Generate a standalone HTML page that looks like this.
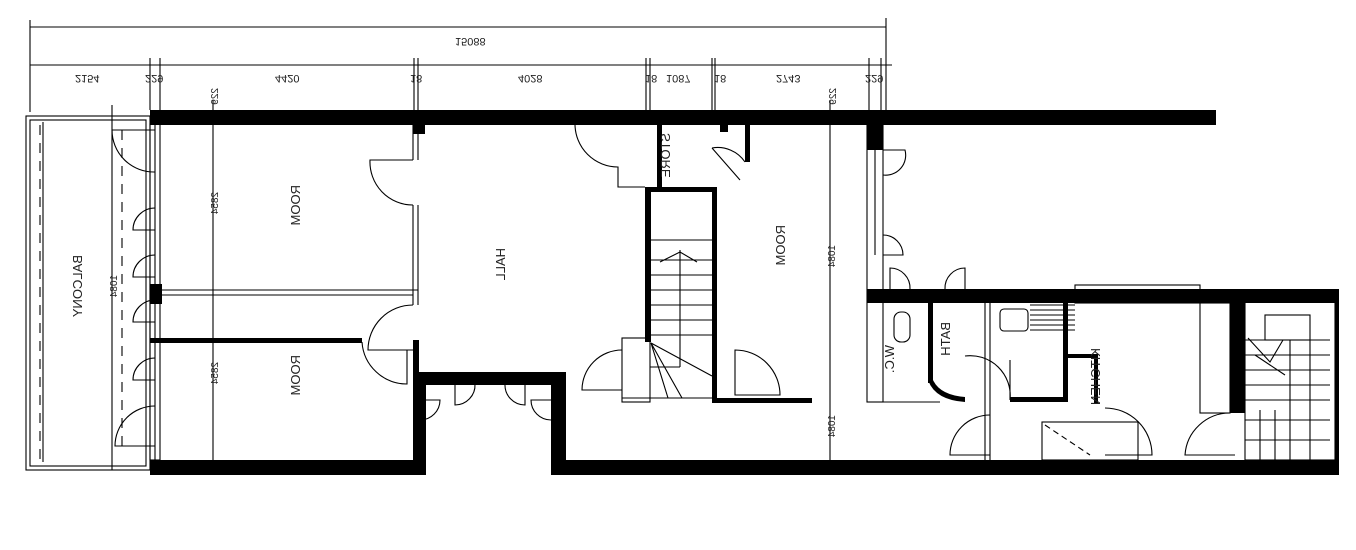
<!DOCTYPE html>
<html><head><meta charset="utf-8"><style>
html,body{margin:0;padding:0;background:#fff;}
svg{display:block;}
text{font-family:"Liberation Sans",sans-serif;fill:#222;}
</style></head><body>
<svg width="1356" height="550" viewBox="0 0 1356 550" xmlns="http://www.w3.org/2000/svg">
<g stroke="#000" stroke-width="1.1" fill="none">
<line x1="30" y1="27" x2="886" y2="27"/>
<line x1="30" y1="20" x2="30" y2="112"/>
<line x1="886" y1="18" x2="886" y2="110"/>
<line x1="30" y1="65" x2="892" y2="65"/>
<line x1="150" y1="58" x2="150" y2="110"/><line x1="160" y1="58" x2="160" y2="110"/>
<line x1="414" y1="58" x2="414" y2="110"/><line x1="418" y1="58" x2="418" y2="110"/>
<line x1="646" y1="58" x2="646" y2="110"/><line x1="650" y1="58" x2="650" y2="110"/>
<line x1="712" y1="58" x2="712" y2="110"/><line x1="715" y1="58" x2="715" y2="110"/>
<line x1="869" y1="58" x2="869" y2="110"/><line x1="881" y1="58" x2="881" y2="110"/>
<line x1="213" y1="100" x2="213" y2="460"/>
<line x1="830" y1="100" x2="830" y2="460"/>
<rect x="26" y="116" width="124" height="354"/>
<rect x="30" y="120" width="116" height="346"/>
<line x1="43" y1="122" x2="43" y2="462"/>
<line x1="112" y1="105" x2="112" y2="470"/>
<line x1="122" y1="130" x2="122" y2="450" stroke-dasharray="10,8"/>
<line x1="40" y1="125" x2="40" y2="460" stroke-dasharray="10,8"/>
<rect x="150" y="124" width="10" height="336"/>
<line x1="155" y1="124" x2="155" y2="460"/>
<line x1="160" y1="290" x2="418" y2="290"/><line x1="160" y1="295" x2="413" y2="295"/>
<line x1="413" y1="124" x2="413" y2="160"/><line x1="418" y1="124" x2="418" y2="160"/>
<line x1="413" y1="205" x2="413" y2="305"/><line x1="418" y1="205" x2="418" y2="305"/>
<path d="M413 160 L370 160 A43 43 0 0 0 413 205"/>
<path d="M413 305 A45 45 0 0 0 368 350 L413 350"/>
<path d="M362 342 A45 45 0 0 0 407 384 L407 350"/>
<path d="M155 130 L112 130 M155 172 A42 42 0 0 1 112 130"/>
<path d="M155 208 A22 22 0 0 0 133 230 L155 230"/>
<path d="M155 255 A22 22 0 0 0 133 277 L155 277"/>
<path d="M155 300 A22 22 0 0 0 133 322 L155 322"/>
<path d="M155 358 A22 22 0 0 0 133 380 L155 380"/>
<path d="M155 406 A40 40 0 0 0 115 446 L155 446"/>
<path d="M420 400 L440 400 A20 20 0 0 1 420 420"/>
<path d="M455 384 L455 405 A20 20 0 0 0 475 384"/>
<path d="M525 384 L525 405 A20 20 0 0 1 505 384"/>
<path d="M551 400 L531 400 A20 20 0 0 0 551 420"/>
<path d="M575 124 A43 43 0 0 0 618 167 L618 187 L645 187"/>
<path d="M712 148 A33 33 0 0 1 745 162 M712 148 L740 180"/>
<path d="M622 350 A40 40 0 0 0 582 390 L622 390"/>
<path d="M735 350 A45 45 0 0 1 780 395 L735 395 Z"/>
<path d="M883 150 L905 150 A20 20 0 0 1 883 175"/>
<path d="M883 235 A20 20 0 0 1 903 255 L883 255"/>
<path d="M890 289 L890 268 A20 20 0 0 1 910 289"/>
<path d="M965 289 L965 268 A20 20 0 0 0 945 289"/>
<path d="M965 356 A40 40 0 0 1 1010 400 L1010 360"/>
<path d="M990 415 A40 40 0 0 0 950 455 L990 455"/>
<path d="M1105 408 A47 47 0 0 1 1152 455 L1105 455"/>
<path d="M1230 413 A45 45 0 0 0 1185 455 L1235 455"/>
<line x1="650" y1="240" x2="712" y2="240"/>
<line x1="650" y1="260" x2="712" y2="260"/><line x1="650" y1="275" x2="712" y2="275"/>
<line x1="650" y1="290" x2="712" y2="290"/><line x1="650" y1="305" x2="712" y2="305"/>
<line x1="650" y1="320" x2="712" y2="320"/><line x1="650" y1="335" x2="712" y2="335"/>
<line x1="680" y1="250" x2="680" y2="367"/>
<path d="M660 262 L680 252 L697 262"/>
<path d="M651 343 L712 376 M651 343 L682 398 M651 343 L668 398"/>
<rect x="622" y="338" width="28" height="64"/>
<line x1="622" y1="398" x2="712" y2="398"/>
<line x1="650" y1="367" x2="680" y2="367"/>
<rect x="867" y="124" width="16" height="278"/>
<line x1="875" y1="150" x2="875" y2="255"/>
<rect x="894" y="312" width="16" height="30" rx="7"/>
<line x1="883" y1="402" x2="940" y2="402"/>
<line x1="985" y1="303" x2="985" y2="460"/><line x1="990" y1="303" x2="990" y2="460"/>
<rect x="1000" y="309" width="28" height="22" rx="4"/>
<path d="M1030 305 L1075 305 M1030 310 L1075 310 M1030 315 L1075 315 M1030 320 L1075 320 M1030 325 L1075 325 M1030 330 L1075 330"/>
<rect x="1075" y="285" width="125" height="18"/>
<rect x="1200" y="303" width="30" height="110"/>
<rect x="1042" y="422" width="96" height="38"/>
<line x1="1045" y1="425" x2="1090" y2="455" stroke-dasharray="6,4"/>
<rect x="1245" y="296" width="90" height="164"/>
<rect x="1265" y="315" width="45" height="25"/>
<path d="M1245 340 L1330 340 M1245 355 L1330 355 M1245 370 L1330 370 M1245 385 L1330 385 M1245 400 L1330 400 M1245 420 L1330 420 M1245 440 L1330 440"/>
<path d="M1290 340 L1290 460 M1310 340 L1310 460 M1260 410 L1260 460 M1275 410 L1275 460"/>
<path d="M1248 338 L1270 362 L1283 340 M1255 355 L1285 375"/>
</g>
<g fill="#000">
<rect x="150" y="110" width="1066" height="15"/>
<rect x="150" y="460" width="276" height="15"/>
<rect x="413" y="372" width="13" height="103"/>
<rect x="413" y="372" width="153" height="13"/>
<rect x="551" y="372" width="15" height="103"/>
<rect x="551" y="460" width="788" height="15"/>
<rect x="150" y="338" width="212" height="5"/>
<rect x="150" y="284" width="12" height="20"/>
<rect x="413" y="124" width="12" height="10"/>
<rect x="413" y="340" width="6" height="35"/>
<rect x="657" y="124" width="5" height="66"/>
<rect x="645" y="187" width="72" height="5"/>
<rect x="645" y="187" width="6" height="155"/>
<rect x="712" y="187" width="5" height="215"/>
<rect x="712" y="398" width="100" height="5"/>
<rect x="745" y="124" width="5" height="38"/>
<rect x="720" y="124" width="8" height="8"/>
<rect x="867" y="124" width="16" height="26"/>
<rect x="867" y="289" width="472" height="14"/>
<rect x="928" y="303" width="5" height="80"/>
<path d="M928 380 Q935 400 965 402 L965 397 Q940 395 933 380 Z"/>
<rect x="1063" y="303" width="5" height="98"/>
<rect x="1010" y="397" width="58" height="5"/>
<rect x="1068" y="354" width="28" height="4"/>
<rect x="1094" y="354" width="4" height="50"/>
<rect x="1230" y="290" width="15" height="123"/>
<rect x="1335" y="296" width="4" height="164"/>
</g>
<g font-size="11">
<text transform="translate(455,38) scale(1,-1)">15088</text>
<text transform="translate(75,75) scale(1,-1)">2154</text>
<text transform="translate(145,75) scale(1,-1)">229</text>
<text transform="translate(275,75) scale(1,-1)">4420</text>
<text transform="translate(410,75) scale(1,-1)">18</text>
<text transform="translate(518,75) scale(1,-1)">4028</text>
<text transform="translate(645,75) scale(1,-1)">18</text>
<text transform="translate(666,75) scale(1,-1)">1087</text>
<text transform="translate(714,75) scale(1,-1)">18</text>
<text transform="translate(776,75) scale(1,-1)">2743</text>
<text transform="translate(865,75) scale(1,-1)">229</text>
</g>
<g font-size="13">
<text transform="translate(300,185) rotate(90) scale(1,-1)">ROOM</text>
<text transform="translate(300,355) rotate(90) scale(1,-1)">ROOM</text>
<text transform="translate(505,248) rotate(90) scale(1,-1)">HALL</text>
<text transform="translate(785,225) rotate(90) scale(1,-1)">ROOM</text>
<text transform="translate(82,255) rotate(90) scale(1,-1)">BALCONY</text>
<text transform="translate(670,133) rotate(90) scale(1,-1)">STORE</text>
<text transform="translate(950,322) rotate(90) scale(1,-1)">BATH</text>
<text transform="translate(894,345) rotate(90) scale(1,-1)">W.C.</text>
<text transform="translate(1100,348) rotate(90) scale(1,-1)">KITCHEN</text>
</g>
<g font-size="10">
<text transform="translate(218,192) rotate(90) scale(1,-1)">2854</text>
<text transform="translate(218,362) rotate(90) scale(1,-1)">2854</text>
<text transform="translate(835,245) rotate(90) scale(1,-1)">1084</text>
<text transform="translate(835,415) rotate(90) scale(1,-1)">1084</text>
<text transform="translate(117,275) rotate(90) scale(1,-1)">1084</text>
<text transform="translate(218,88) rotate(90) scale(1,-1)">229</text>
<text transform="translate(836,88) rotate(90) scale(1,-1)">229</text>
</g>
</svg>
</body></html>
